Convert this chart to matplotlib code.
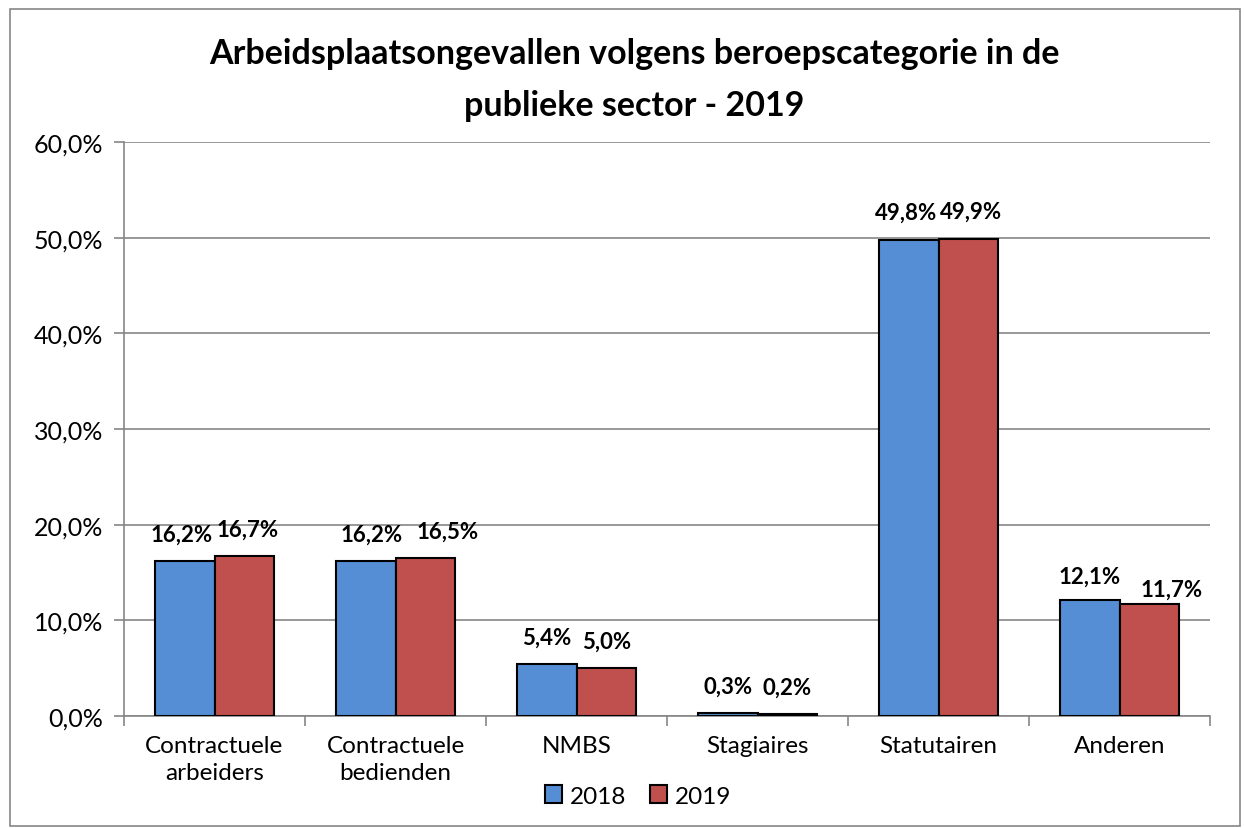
import matplotlib
matplotlib.use("Agg")
import matplotlib.pyplot as plt
import numpy as np
from matplotlib.ticker import FuncFormatter, FixedLocator
from matplotlib.patches import Rectangle

categories = ["Contractuele\narbeiders", "Contractuele\nbedienden", "NMBS", "Stagiaires", "Statutairen", "Anderen"]
series_names = ["2018", "2019"]
values_2018 = [16.2, 16.2, 5.4, 0.3, 49.8, 12.1]
values_2019 = [16.7, 16.5, 5.0, 0.2, 49.9, 11.7]
title = "Arbeidsplaatsongevallen volgens beroepscategorie in de\npublieke sector - 2019"

plt.rcParams['font.family'] = ['Lato', 'DejaVu Sans']

fig = plt.figure(figsize=(12.45, 8.29), dpi=100)
W, H = 1245, 829
ax = fig.add_axes([124 / W, 1 - 717 / H, (1210 - 124) / W, (717 - 143) / H])

# outer border
fig.patches.append(Rectangle((10 / W, 2 / H), (1240 - 10) / W, (829 - 12) / H, transform=fig.transFigure,
                             fill=False, edgecolor="#868686", linewidth=1.2))

x = np.arange(len(categories))
bw = 0.33
c18 = "#558ED5"
c19 = "#C0504D"
b1 = ax.bar(x - bw / 2, values_2018, bw, color=c18, edgecolor="black", linewidth=1.5, label=series_names[0], zorder=3)
b2 = ax.bar(x + bw / 2, values_2019, bw, color=c19, edgecolor="black", linewidth=1.5, label=series_names[1], zorder=3)

ax.set_xlim(-0.5, len(categories) - 0.5)
ax.set_ylim(0, 60)
ax.set_yticks(np.arange(0, 61, 10))
ax.yaxis.set_major_formatter(FuncFormatter(lambda v, p: f"{v:.1f}%".replace(".", ",")))
ax.grid(axis="y", color="#868686", linewidth=1.2, zorder=0)
ax.set_xticks(x)
ax.set_xticklabels(categories, linespacing=1.3)
ax.xaxis.set_minor_locator(FixedLocator(np.arange(-0.5, len(categories), 1.0)))
ax.tick_params(axis="x", which="major", length=0, pad=14, labelsize=17.5)
ax.tick_params(axis="x", which="minor", length=7, color="#868686", width=1.2)
ax.tick_params(axis="y", length=7, color="#868686", width=1.2, labelsize=18, pad=8)
for s in ["top", "right"]:
    ax.spines[s].set_visible(False)
for s in ["left", "bottom"]:
    ax.spines[s].set_color("#868686")
    ax.spines[s].set_linewidth(1.2)

# label offsets (dx, dy in points) to mimic original placement
off18 = [(-2, 12), (4, 12), (0, 12), (0, 12), (-2, 12), (0, 10)]
off19 = [(2, 12), (16, 12), (0, 12), (0, 12), (2, 12), (16, 3)]
for bars, vals, offs in [(b1, values_2018, off18), (b2, values_2019, off19)]:
    for b, v, o in zip(bars, vals, offs):
        ax.annotate(f"{v:.1f}%".replace(".", ","), (b.get_x() + b.get_width() / 2, v),
                    xytext=o, textcoords="offset points", ha="center", va="bottom",
                    fontsize=16, fontweight="bold", zorder=4)

fig.text(634 / W, 1 - 80 / H, title, ha="center", va="center", fontsize=24.5, fontweight="bold", linespacing=1.75)

fig.legend(handles=[b1, b2], labels=series_names, loc="center", bbox_to_anchor=(638 / W, 1 - 797 / H),
           ncol=2, frameon=False, fontsize=17.5, handlelength=0.7, handleheight=0.7, handletextpad=0.3,
           columnspacing=1.0)

fig.savefig("out.png", dpi=100)
